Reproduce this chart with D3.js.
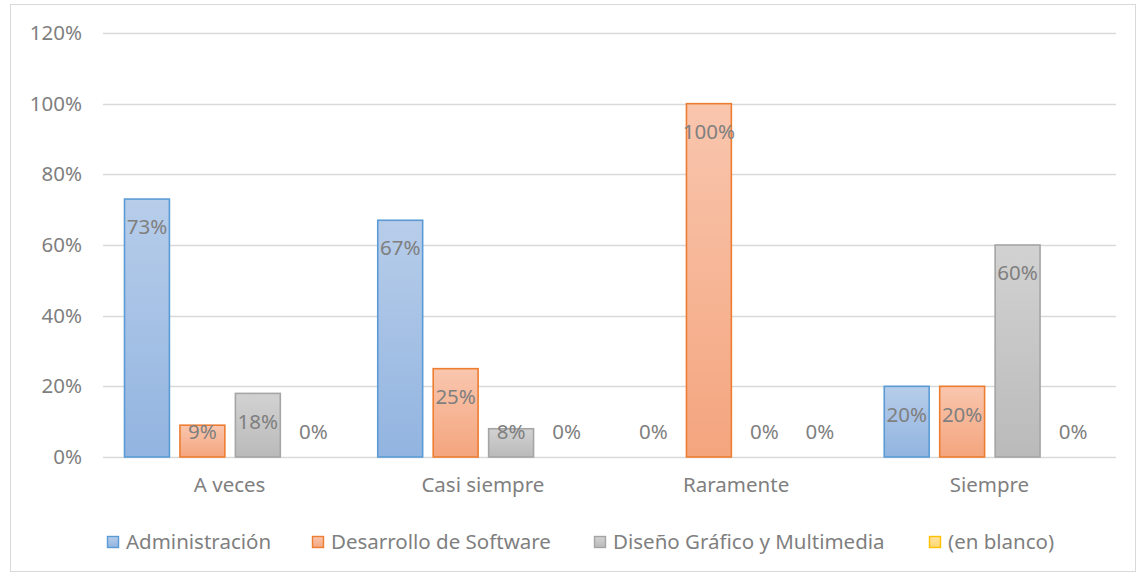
<!DOCTYPE html>
<html>
<head>
<meta charset="utf-8">
<script src="https://cdn.jsdelivr.net/npm/d3@7"></script>
<style>
  body { margin: 0; background: #fff; }
  text { font-family: "Noto Sans", "Open Sans", sans-serif; }
</style>
</head>
<body>
<svg id="chart" width="1137" height="573"></svg>
<script>
var categories = ["A veces", "Casi siempre", "Raramente", "Siempre"];
var seriesNames = ["Administración", "Desarrollo de Software", "Diseño Gráfico y Multimedia", "(en blanco)"];
var administracion = [0.73, 0.67, 0, 0.20];
var desarrollo = [0.09, 0.25, 1.00, 0.20];
var diseno = [0.18, 0.08, 0, 0.60];
var enBlanco = [0, 0, 0, 0];
var yTicks = [0, 0.2, 0.4, 0.6, 0.8, 1.0, 1.2];

var seriesValues = [administracion, desarrollo, diseno, enBlanco];
var fills = [
  ["#b7cdea", "#92b4e0"],
  ["#f9c6ae", "#f4a57e"],
  ["#d2d2d2", "#bababa"],
  ["#ffe39f", "#ffd770"]
];
var strokes = ["#5b9bd5", "#ed7d31", "#a5a5a5", "#ffc000"];
var fontSize = "20.5px";

var svg = d3.select("#chart");
var plotLeft = 103, plotRight = 1116, plotTop = 33, plotBottom = 457;

svg.append("rect")
  .attr("x", 10.5).attr("y", 4.5)
  .attr("width", 1125).attr("height", 567)
  .attr("fill", "#fff").attr("stroke", "#d9d9d9");

var defs = svg.append("defs");
fills.forEach(function(f, i) {
  var g = defs.append("linearGradient")
    .attr("id", "grad" + i)
    .attr("x1", 0).attr("y1", 0).attr("x2", 0).attr("y2", 1);
  g.append("stop").attr("offset", "0%").attr("stop-color", f[0]);
  g.append("stop").attr("offset", "100%").attr("stop-color", f[1]);
});

var y = d3.scaleLinear().domain([0, 1.2]).range([plotBottom, plotTop]);
var x0 = d3.scaleBand().domain(categories).range([plotLeft, plotRight]).padding(0);
var x1 = d3.scaleBand().domain(d3.range(seriesNames.length))
  .range([21, x0.bandwidth() - 21]).paddingInner(0.19);

// gridlines
svg.append("g").selectAll("line")
  .data(yTicks)
  .enter()
  .append("line")
  .attr("x1", plotLeft).attr("x2", plotRight)
  .attr("y1", function(d) { return Math.round(y(d)) + 0.5; })
  .attr("y2", function(d) { return Math.round(y(d)) + 0.5; })
  .attr("stroke", "#d9d9d9")
  .attr("stroke-width", 1.3);

// y axis labels
var yAxis = d3.axisLeft(y).tickValues(yTicks).tickSize(0).tickPadding(0)
  .tickFormat(function(d) { return Math.round(d * 100) + "%"; });
var yg = svg.append("g").attr("transform", "translate(82,0)").call(yAxis);
yg.select(".domain").remove();
yg.selectAll("text")
  .attr("fill", "#7f7f7f")
  .style("font-size", fontSize)
  .style("font-family", "'Noto Sans', sans-serif");

// category labels
var xAxis = d3.axisBottom(x0).tickSize(0).tickPadding(0);
var xg = svg.append("g").attr("transform", "translate(0,477)").call(xAxis);
xg.select(".domain").remove();
xg.selectAll("text")
  .attr("fill", "#7f7f7f")
  .style("font-size", fontSize)
  .style("font-family", "'Noto Sans', sans-serif");

// bars
var groups = svg.append("g").selectAll("g")
  .data(categories)
  .enter()
  .append("g")
  .attr("transform", function(d) { return "translate(" + x0(d) + ",0)"; });

var cells = groups.selectAll("g")
  .data(function(d, ci) {
    return seriesValues.map(function(vals, si) {
      return { series: si, value: vals[ci] };
    });
  })
  .enter()
  .append("g");

cells.filter(function(d) { return d.value > 0; })
  .append("rect")
  .attr("x", function(d) { return x1(d.series) + 0.5; })
  .attr("y", function(d) { return y(d.value); })
  .attr("width", x1.bandwidth())
  .attr("height", function(d) { return plotBottom - y(d.value); })
  .attr("fill", function(d) { return "url(#grad" + d.series + ")"; })
  .attr("stroke", function(d) { return strokes[d.series]; })
  .attr("stroke-width", 1.6);

cells.append("text")
  .attr("x", function(d) { return x1(d.series) + x1.bandwidth() / 2 + 0.5; })
  .attr("y", function(d) { return Math.min(y(d.value) + 28, plotBottom - 25); })
  .attr("dy", "0.35em")
  .attr("text-anchor", "middle")
  .attr("fill", "#7f7f7f")
  .style("font-size", fontSize)
  .text(function(d) { return Math.round(d.value * 100) + "%"; });

// legend
var legendX = [107, 312, 594, 929];
var legend = svg.append("g").selectAll("g")
  .data(seriesNames)
  .enter()
  .append("g")
  .attr("transform", function(d, i) { return "translate(" + legendX[i] + ",536)"; });

legend.append("rect")
  .attr("x", 0.5).attr("y", 0.5)
  .attr("width", 11).attr("height", 11)
  .attr("fill", function(d, i) { return "url(#grad" + i + ")"; })
  .attr("stroke", function(d, i) { return strokes[i]; })
  .attr("stroke-width", 1.4);

legend.append("text")
  .attr("x", 19).attr("y", 6)
  .attr("dy", "0.35em")
  .attr("fill", "#7f7f7f")
  .style("font-size", fontSize)
  .text(function(d) { return d; });
</script>
</body>
</html>
